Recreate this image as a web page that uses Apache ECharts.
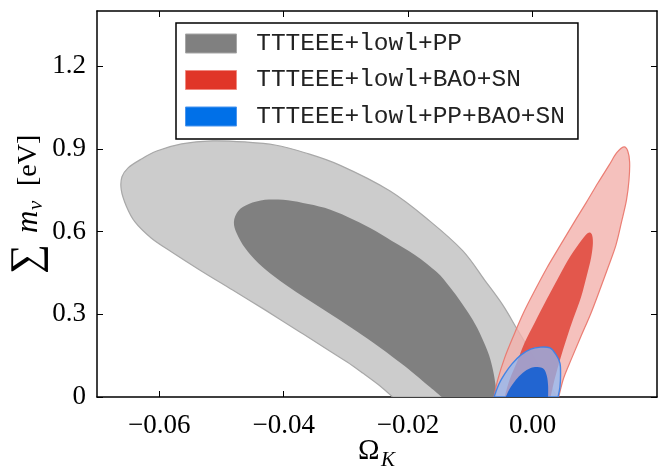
<!DOCTYPE html>
<html>
<head>
<meta charset="utf-8">
<script src="https://cdn.jsdelivr.net/npm/echarts@6/dist/echarts.min.js"></script>
<style>html,body{margin:0;padding:0;background:#fff}#c{width:665px;height:471px}</style>
</head>
<body>
<div id="c"></div>
<script>
// ---- Data (Omega_K, sum m_nu [eV]) ----
const seriesNames = ['TTTEEE+lowl+PP', 'TTTEEE+lowl+BAO+SN', 'TTTEEE+lowl+PP+BAO+SN'];
const xTickValues = [-0.06, -0.04, -0.02, 0.00];
const yTickValues = [0, 0.3, 0.6, 0.9, 1.2];

// TTTEEE+lowl+PP, 95% contour
const grayOuter = [
  [-0.0225,0],[-0.0245,0.040],[-0.0273,0.087],[-0.0298,0.127],[-0.0326,0.167],
  [-0.0374,0.236],[-0.0430,0.316],[-0.0482,0.388],[-0.0535,0.461],[-0.0580,0.526],
  [-0.0613,0.577],[-0.0639,0.635],[-0.0653,0.693],[-0.0661,0.751],[-0.0660,0.798],
  [-0.0650,0.831],[-0.0631,0.860],[-0.0604,0.892],[-0.0564,0.918],[-0.0514,0.929],
  [-0.0462,0.925],[-0.0414,0.914],[-0.0366,0.886],[-0.0310,0.841],[-0.0229,0.747],
  [-0.0165,0.638],[-0.0112,0.530],[-0.0077,0.424],[-0.0048,0.334],[-0.0024,0.243],
  [-0.0001,0.156],[0.0020,0.076],[0.0039,0]
];
// TTTEEE+lowl+PP, 68% contour
const grayInner = [
  [-0.0146,0],[-0.0165,0.036],[-0.0188,0.080],[-0.0212,0.123],[-0.0242,0.174],
  [-0.0274,0.225],[-0.0310,0.279],[-0.0345,0.330],[-0.0380,0.381],[-0.0414,0.435],
  [-0.0441,0.486],[-0.0462,0.540],[-0.0475,0.591],[-0.0480,0.635],[-0.0473,0.675],
  [-0.0456,0.700],[-0.0430,0.715],[-0.0401,0.715],[-0.0369,0.704],[-0.0334,0.686],
  [-0.0297,0.653],[-0.0261,0.613],[-0.0226,0.566],[-0.0189,0.515],[-0.0154,0.453],
  [-0.0133,0.399],[-0.0114,0.341],[-0.0096,0.279],[-0.0082,0.218],[-0.0070,0.152],
  [-0.0062,0.080],[-0.0057,0]
];
// TTTEEE+lowl+BAO+SN, 95% contour
const redOuter = [
  [-0.0062,0],[-0.0056,0.062],[-0.0045,0.141],[-0.0030,0.225],[-0.0014,0.308],
  [0.0004,0.388],[0.0023,0.468],[0.0044,0.548],[0.0065,0.627],[0.0086,0.704],
  [0.0105,0.776],[0.0123,0.841],[0.0135,0.885],[0.0147,0.907],[0.0153,0.892],
  [0.0156,0.852],[0.0155,0.787],[0.0151,0.715],[0.0143,0.635],[0.0134,0.551],
  [0.0121,0.468],[0.0108,0.388],[0.0094,0.305],[0.0078,0.221],[0.0063,0.141],
  [0.0050,0.069],[0.0042,0]
];
// TTTEEE+lowl+BAO+SN, 68% contour
const redInner = [
  [-0.0045,0],[-0.0037,0.062],[-0.0025,0.127],[-0.0013,0.196],[0.0004,0.272],
  [0.0023,0.355],[0.0042,0.435],[0.0061,0.511],[0.0079,0.569],[0.0089,0.595],
  [0.0095,0.591],[0.0097,0.559],[0.0094,0.504],[0.0087,0.439],[0.0078,0.363],
  [0.0066,0.287],[0.0055,0.214],[0.0045,0.141],[0.0036,0.069],[0.0029,0]
];
// TTTEEE+lowl+PP+BAO+SN, 95% contour
const blueOuter = [
  [-0.0062,0],[-0.0054,0.047],[-0.0045,0.083],[-0.0033,0.120],[-0.0019,0.152],
  [-0.0003,0.174],[0.0013,0.181],[0.0028,0.178],[0.0037,0.156],[0.0044,0.123],
  [0.0045,0.080],[0.0044,0.036],[0.0041,0]
];
// TTTEEE+lowl+PP+BAO+SN, 68% contour
const blueInner = [
  [-0.0043,0],[-0.0037,0.029],[-0.0027,0.062],[-0.0016,0.087],[-0.0003,0.105],
  [0.0008,0.109],[0.0018,0.102],[0.0023,0.076],[0.0025,0.040],[0.0025,0]
];

const contours = [[grayOuter, grayInner], [redOuter, redInner], [blueOuter, blueInner]];

// ---- styles ----
const legendColors = ['#808080', '#e03628', '#0070e8'];
const legendBorders = ['#a6a6a6', '#f08a80', '#4a95ee'];
const fillStyles = [
  [{fill:'#cccccc', stroke:'#a8a8a8', lineWidth:1.2}, {fill:'#808080', stroke:null, lineWidth:0}],
  [{fill:'rgba(242,178,172,0.8)', stroke:'rgba(234,120,110,0.95)', lineWidth:1.2}, {fill:'rgba(224,72,60,0.88)', stroke:null, lineWidth:0}],
  [{fill:'rgba(140,185,245,0.72)', stroke:'rgba(60,130,230,0.95)', lineWidth:1.4}, {fill:'rgba(20,95,210,0.9)', stroke:null, lineWidth:0}]
];

function smoothPath(p) {
  const n = p.length;
  let d = 'M' + p[0][0] + ',' + p[0][1];
  for (let i = 0; i < n - 1; i++) {
    const p0 = p[Math.max(i - 1, 0)], p1 = p[i], p2 = p[i + 1], p3 = p[Math.min(i + 2, n - 1)];
    const c1x = p1[0] + (p2[0] - p0[0]) / 6, c1y = p1[1] + (p2[1] - p0[1]) / 6;
    const c2x = p2[0] - (p3[0] - p1[0]) / 6, c2y = p2[1] - (p3[1] - p1[1]) / 6;
    d += ' C' + c1x + ',' + c1y + ' ' + c2x + ',' + c2y + ' ' + p2[0] + ',' + p2[1];
  }
  return d + ' Z';
}

function renderContour(params, api) {
  const s = params.seriesIndex, k = params.dataIndex;
  const pts = contours[s][k].map(function (v) { return api.coord(v); });
  const st = fillStyles[s][k];
  return {
    type: 'path',
    shape: { pathData: smoothPath(pts) },
    style: { fill: st.fill, stroke: st.stroke, lineWidth: st.lineWidth }
  };
}

const series = seriesNames.map(function (name, i) {
  return {
    type: 'custom', name: name, renderItem: renderContour, clip: true,
    xAxisIndex: 0, yAxisIndex: 0,
    itemStyle: { color: legendColors[i], borderColor: legendBorders[i] },
    data: [[0, 0], [0, 0]], z: 2 + i, silent: true, animation: false
  };
});

const serif = '"Liberation Serif", "DejaVu Serif", serif';
const xFmt = function (v) { return (v < 0 ? '\u2212' : '') + Math.abs(v).toFixed(2); };
const yFmt = function (v) { return v === 0 ? '0' : v.toFixed(1); };
const axisLineStyle = { color: '#000', width: 1.5 };
const tickStyle = { show: true, inside: true, length: 6, lineStyle: { color: '#000', width: 1 } };

const chart = echarts.init(document.getElementById('c'), null, { renderer: 'canvas' });
chart.setOption({
  animation: false,
  backgroundColor: '#fff',
  grid: { left: 97, right: 8, top: 11, bottom: 74, containLabel: false },
  xAxis: [
    { type: 'value', min: -0.07, max: 0.02, position: 'bottom',
      axisLine: { show: true, onZero: false, lineStyle: axisLineStyle },
      axisTick: Object.assign({ customValues: xTickValues }, tickStyle),
      axisLabel: { customValues: xTickValues, formatter: xFmt, margin: 15, color: '#000', fontSize: 27, fontFamily: serif },
      splitLine: { show: false } },
    { type: 'value', min: -0.07, max: 0.02, position: 'top',
      axisLine: { show: true, onZero: false, lineStyle: axisLineStyle },
      axisTick: Object.assign({ customValues: xTickValues }, tickStyle),
      axisLabel: { show: false }, splitLine: { show: false } }
  ],
  yAxis: [
    { type: 'value', min: 0, max: 1.4, position: 'left',
      axisLine: { show: true, onZero: false, lineStyle: axisLineStyle },
      axisTick: Object.assign({ customValues: yTickValues }, tickStyle),
      axisLabel: { customValues: yTickValues, formatter: yFmt, margin: 11, color: '#000', fontSize: 27, fontFamily: serif },
      splitLine: { show: false } },
    { type: 'value', min: 0, max: 1.4, position: 'right',
      axisLine: { show: true, onZero: false, lineStyle: axisLineStyle },
      axisTick: Object.assign({ customValues: yTickValues }, tickStyle),
      axisLabel: { show: false }, splitLine: { show: false } }
  ],
  legend: {
    orient: 'vertical', left: 176, top: 23,
    padding: [8, 13, 10, 9],
    itemWidth: 51, itemHeight: 19, itemGap: 11.5,
    icon: 'rect', selectedMode: false,
    borderColor: '#000', borderWidth: 1.5, backgroundColor: '#fff',
    formatter: function (n) { return ' ' + n; },
    textStyle: { fontFamily: '"Liberation Mono", "DejaVu Sans Mono", monospace', fontSize: 24.5, lineHeight: 24, color: '#222' },
    data: seriesNames.map(function (n, i) {
      return { name: n, itemStyle: { color: legendColors[i], borderColor: legendBorders[i], borderWidth: 1 } };
    })
  },
  graphic: [
    { type: 'group', x: 28, y: 206, rotation: Math.PI / 2, silent: true, children: [
      { type: 'text', x: -68, y: 0, style: { text: '\u2211', font: '42px ' + serif, fill: '#000', verticalAlign: 'middle', align: 'left' } },
      { type: 'text', x: -27, y: 1, style: { text: 'm', font: 'italic 31px ' + serif, fill: '#000', verticalAlign: 'middle', align: 'left' } },
      { type: 'text', x: -4, y: 8, style: { text: '\u03bd', font: 'italic 21px ' + serif, fill: '#000', verticalAlign: 'middle', align: 'left' } },
      { type: 'text', x: 20, y: 1, style: { text: '[eV]', font: '28px ' + serif, fill: '#000', verticalAlign: 'middle', align: 'left' } }
    ] },
    { type: 'text', x: 358, y: 451, silent: true, style: { text: '\u03a9', font: '29px ' + serif, fill: '#000', verticalAlign: 'middle', align: 'left' } },
    { type: 'text', x: 381, y: 460, silent: true, style: { text: 'K', font: 'italic 21px ' + serif, fill: '#000', verticalAlign: 'middle', align: 'left' } }
  ],
  series: series
});
</script>
</body>
</html>
